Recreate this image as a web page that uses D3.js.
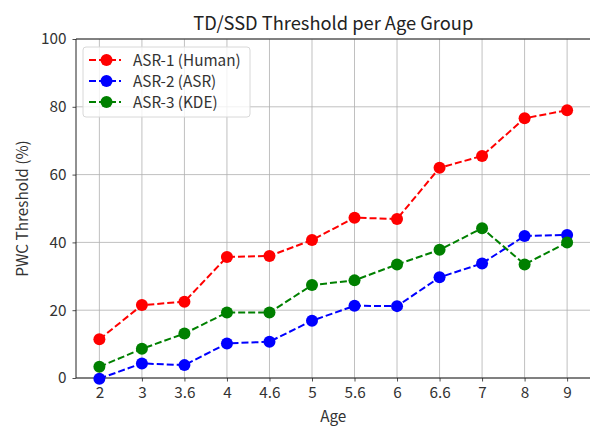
<!DOCTYPE html>
<html>
<head>
<meta charset="utf-8">
<script src="https://cdn.jsdelivr.net/npm/d3@7"></script>
<style>
  body { margin: 0; background: #fff; }
  text { font-family: "Noto Sans CJK KR", "Noto Sans", sans-serif; }
</style>
</head>
<body>
<div id="canvas"></div>
<script>
// data
var ages = ["2", "3", "3.6", "4", "4.6", "5", "5.6", "6", "6.6", "7", "8", "9"];
var asr1 = [11.4, 21.5, 22.5, 35.7, 36.0, 40.7, 47.3, 46.9, 62.0, 65.5, 76.6, 79.0];
var asr2 = [-0.2, 4.3, 3.8, 10.2, 10.7, 16.9, 21.3, 21.2, 29.7, 33.8, 41.9, 42.2];
var asr3 = [3.3, 8.6, 13.1, 19.3, 19.3, 27.4, 28.8, 33.5, 37.8, 44.2, 33.5, 40.0];
var seriesNames = ["ASR-1 (Human)", "ASR-2 (ASR)", "ASR-3 (KDE)"];
var seriesColors = ["#ff0000", "#0000ff", "#008000"];
var yTicks = [0, 20, 40, 60, 80, 100];

var canvasWidth = 590, canvasHeight = 426;
var plotLeft = 76, plotRight = 590.5, plotTop = 39, plotBottom = 378;
var fontSize = 15.3;

var svg = d3.select("#canvas").append("svg")
    .attr("width", canvasWidth)
    .attr("height", canvasHeight);

var idx = d3.range(ages.length);
var pad = (ages.length - 1) * 0.05;
var x = d3.scaleLinear()
    .domain([-pad, ages.length - 1 + pad])
    .range([plotLeft, plotRight]);
var y = d3.scaleLinear().domain([0, 100]).range([plotBottom, plotTop]);

// grid
svg.append("g").selectAll("line").data(idx).enter().append("line")
    .attr("x1", function(d) { return x(d); })
    .attr("x2", function(d) { return x(d); })
    .attr("y1", plotTop).attr("y2", plotBottom)
    .attr("stroke", "#b0b0b0").attr("stroke-width", 0.8);
svg.append("g").selectAll("line").data(yTicks).enter().append("line")
    .attr("x1", plotLeft).attr("x2", plotRight)
    .attr("y1", function(d) { return y(d); })
    .attr("y2", function(d) { return y(d); })
    .attr("stroke", "#b0b0b0").attr("stroke-width", 0.8);

// axes
var xAxis = d3.axisBottom(x).tickValues(idx)
    .tickFormat(function(i) { return ages[i]; })
    .tickSize(3.5).tickPadding(6).tickSizeOuter(0);
var yAxis = d3.axisLeft(y).tickValues(yTicks)
    .tickSize(3.5).tickPadding(6).tickSizeOuter(0);

var gx = svg.append("g").attr("transform", "translate(0," + plotBottom + ")").call(xAxis);
var gy = svg.append("g").attr("transform", "translate(" + plotLeft + ",0)").call(yAxis);
[gx, gy].forEach(function(g) {
    g.select(".domain").remove();
    g.selectAll("line").attr("stroke", "#222").attr("stroke-width", 0.8);
    g.selectAll("text").attr("font-size", fontSize).attr("fill", "#333")
        .attr("font-family", "\"Noto Sans CJK KR\", \"Noto Sans\", sans-serif");
});

// spines
svg.append("path")
    .attr("d", "M" + plotRight + "," + plotTop + "H" + plotLeft + "V" + plotBottom + "H" + plotRight)
    .attr("fill", "none").attr("stroke", "#222").attr("stroke-width", 1);

// series
var allSeries = [asr1, asr2, asr3];
var line = d3.line()
    .x(function(d, i) { return x(i); })
    .y(function(d) { return y(d); });

allSeries.forEach(function(vals, s) {
    svg.append("path").datum(vals)
        .attr("d", line)
        .attr("fill", "none")
        .attr("stroke", seriesColors[s])
        .attr("stroke-width", 2)
        .attr("stroke-dasharray", "7,3");
    svg.append("g").selectAll("circle").data(vals).enter().append("circle")
        .attr("cx", function(d, i) { return x(i); })
        .attr("cy", function(d) { return y(d); })
        .attr("r", 6)
        .attr("fill", seriesColors[s]);
});

// title and labels
svg.append("text")
    .attr("x", (plotLeft + plotRight) / 2).attr("y", 30)
    .attr("text-anchor", "middle")
    .attr("font-size", 18.3).attr("fill", "#222")
    .text("TD/SSD Threshold per Age Group");
svg.append("text")
    .attr("x", (plotLeft + plotRight) / 2).attr("y", 422)
    .attr("text-anchor", "middle")
    .attr("font-size", fontSize).attr("fill", "#333")
    .text("Age");
svg.append("text")
    .attr("transform", "translate(28," + ((plotTop + plotBottom) / 2) + ") rotate(-90)")
    .attr("text-anchor", "middle")
    .attr("font-size", fontSize).attr("fill", "#333")
    .text("PWC Threshold (%)");

// legend
var legend = svg.append("g");
legend.append("rect")
    .attr("x", 83).attr("y", 47)
    .attr("width", 167).attr("height", 70)
    .attr("rx", 3).attr("ry", 3)
    .attr("fill", "#fff").attr("fill-opacity", 0.8)
    .attr("stroke", "#d8d8d8").attr("stroke-width", 1);
seriesNames.forEach(function(name, s) {
    var ly = 60 + s * 21;
    legend.append("line")
        .attr("x1", 89).attr("x2", 121)
        .attr("y1", ly).attr("y2", ly)
        .attr("stroke", seriesColors[s]).attr("stroke-width", 2)
        .attr("stroke-dasharray", "7,3");
    legend.append("circle")
        .attr("cx", 106.5).attr("cy", ly).attr("r", 6)
        .attr("fill", seriesColors[s]);
    legend.append("text")
        .attr("x", 133).attr("y", ly + 5.5)
        .attr("font-size", fontSize).attr("fill", "#333")
        .text(name);
});
</script>
</body>
</html>
